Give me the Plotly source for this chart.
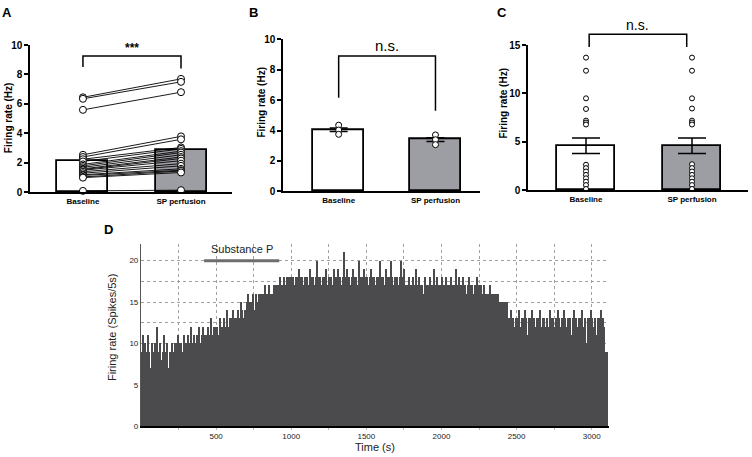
import plotly.graph_objects as go

W, H = 752, 457

groups = ["Baseline", "SP perfusion"]

# panel A: paired cells, baseline -> SP perfusion
a_baseline = [6.45, 6.35, 5.6, 2.55, 2.4, 2.25, 2.1, 1.9, 1.8, 1.7,
              1.6, 1.55, 1.5, 1.4, 1.3, 1.2, 1.15, 1.05, 1.0, 0.1]
a_sp = [7.7, 7.5, 6.8, 3.8, 3.6, 3.05, 2.95, 2.8, 2.7, 2.55,
        2.4, 2.3, 2.15, 1.95, 1.8, 1.6, 1.5, 1.45, 1.35, 0.15]
a_means = [2.15, 2.9]
a_bracket_top = 9.25
a_bracket_ends = [8.5, 8.4]
a_label = "***"

# panel B
b_baseline = [4.35, 4.03, 3.75]
b_sp = [3.71, 3.39, 3.07]
b_means = [4.05, 3.4]
b_sem = [0.12, 0.13]
b_bracket_top = 8.9
b_bracket_ends = [6.15, 5.3]
b_label = "n.s."

# panel C
c_baseline = [13.7, 12.35, 9.5, 8.4, 7.2, 7.0, 6.8, 2.65, 2.3, 1.95, 1.6, 1.25, 0.9, 0.55, 0.15]
c_sp = [13.7, 12.35, 9.5, 8.45, 7.2, 7.0, 6.8, 2.7, 2.3, 1.95, 1.6, 1.25, 0.9, 0.55, 0.15]
c_means = [4.6, 4.6]
c_sem = [0.8, 0.8]
c_bracket_top = 16.1
c_bracket_ends = [14.8, 14.8]
c_bracket_x = [0.03, 0.95]
c_label = "n.s."

# panel D: firing rate histogram (spikes/5s), one value per 10 s from t = 0
bin_width = 10
rate_d = [
    9, 11, 10, 9, 11, 9, 7, 10, 9, 10,
    12, 9, 10, 8, 9, 11, 9, 10, 7, 9,
    10, 9, 10, 10, 11, 10, 10, 9, 11, 10,
    10, 11, 10, 12, 10, 11, 10, 11, 12, 10,
    11, 12, 11, 11, 12, 11, 13, 11, 12, 12,
    12, 11, 13, 12, 12, 13, 12, 14, 12, 13,
    13, 14, 13, 13, 14, 13, 15, 14, 13, 14,
    15, 16, 15, 15, 16, 14, 16, 15, 16, 16,
    16, 16, 17, 16, 16, 17, 16, 16, 17, 17,
    17, 17, 18, 17, 17, 18, 17, 18, 18, 18,
    18, 18, 17, 18, 18, 19, 18, 18, 17, 18,
    18, 17, 19, 18, 18, 17, 18, 20, 18, 18,
    17, 18, 18, 19, 17, 18, 18, 17, 19, 18,
    18, 19, 18, 17, 18, 21, 18, 19, 18, 17,
    18, 19, 18, 18, 17, 20, 18, 18, 19, 18,
    18, 17, 18, 19, 18, 18, 17, 18, 18, 20,
    18, 18, 17, 19, 18, 18, 20, 18, 17, 18,
    18, 17, 18, 20, 18, 19, 17, 17, 18, 17,
    17, 18, 17, 19, 17, 18, 17, 17, 16, 18,
    17, 17, 18, 17, 17, 19, 17, 18, 17, 17,
    18, 17, 17, 18, 17, 17, 18, 17, 17, 19,
    17, 18, 17, 17, 18, 17, 16, 17, 18, 17,
    17, 16, 17, 18, 17, 17, 17, 16, 17, 16,
    16, 16, 17, 16, 16, 16, 16, 16, 15, 15,
    15, 15, 15, 15, 13, 13, 14, 13, 12, 13,
    13, 14, 12, 13, 13, 14, 13, 11, 13, 13,
    14, 13, 12, 13, 13, 14, 12, 13, 13, 12,
    13, 12, 14, 13, 13, 12, 13, 14, 13, 12,
    13, 14, 13, 12, 13, 13, 11, 13, 14, 13,
    12, 13, 13, 14, 12, 13, 10, 13, 13, 14,
    13, 12, 13, 11, 13, 13, 14, 13, 12, 9,
    9,
]
sp_window = [420, 920]
sp_level = 20
d_xticks = [250, 500, 750, 1000, 1250, 1500, 1750, 2000, 2250, 2500, 2750, 3000]
d_yticks = [0, 2.5, 5, 7.5, 10, 12.5, 15, 17.5, 20]


def xdom(left, right):
    return [left / W, right / W]


def ydom(top, bottom):
    return [1 - bottom / H, 1 - top / H]


def to_paper(v, rng, dom):
    return dom[0] + (v - rng[0]) / (rng[1] - rng[0]) * (dom[1] - dom[0])


FONT = "Liberation Sans, Arial, sans-serif"
NARROW = "Liberation Sans Narrow, Arial Narrow, Liberation Sans, sans-serif"
GREY_BAR = "#9d9da4"

panels = {
    "A": dict(xd=xdom(30, 232), yd=ydom(41, 192), xr=[-0.54, 1.52], yr=[0, 10], dtick=2),
    "B": dict(xd=xdom(283, 480), yd=ydom(35, 191), xr=[-0.575, 1.46], yr=[0, 10], dtick=2),
    "C": dict(xd=xdom(528, 748), yd=ydom(41, 190), xr=[-0.547, 1.528], yr=[0, 15], dtick=5),
}

fig = go.Figure()

# ---- panel A
fig.add_trace(go.Bar(
    x=[0, 1], y=a_means, width=0.52, xaxis="x", yaxis="y",
    marker=dict(color=["white", GREY_BAR], line=dict(color="black", width=1.8)),
))
lx, ly = [], []
for b, s in zip(a_baseline, a_sp):
    lx += [0, 1, None]
    ly += [b, s, None]
fig.add_trace(go.Scatter(
    x=lx, y=ly, mode="lines+markers", xaxis="x", yaxis="y", cliponaxis=False,
    line=dict(color="black", width=0.9),
    marker=dict(size=7, color="white", line=dict(color="black", width=1)),
))

# ---- panel B
fig.add_trace(go.Bar(
    x=[0, 1], y=b_means, width=0.52, xaxis="x2", yaxis="y2",
    marker=dict(color=["white", GREY_BAR], line=dict(color="black", width=1.8)),
    error_y=dict(type="data", array=b_sem, color="black", thickness=1.5, width=9),
))
fig.add_trace(go.Scatter(
    x=[0] * len(b_baseline) + [1] * len(b_sp), y=b_baseline + b_sp,
    mode="markers", xaxis="x2", yaxis="y2",
    marker=dict(size=6, color="white", line=dict(color="black", width=1)),
))

# ---- panel C
fig.add_trace(go.Bar(
    x=[0, 1], y=c_means, width=0.54, xaxis="x3", yaxis="y3",
    marker=dict(color=["white", GREY_BAR], line=dict(color="black", width=1.8)),
    error_y=dict(type="data", array=c_sem, color="black", thickness=1.5, width=14),
))
fig.add_trace(go.Scatter(
    x=[0] * len(c_baseline) + [1] * len(c_sp), y=c_baseline + c_sp,
    mode="markers", xaxis="x3", yaxis="y3", cliponaxis=False,
    marker=dict(size=5, color="white", line=dict(color="black", width=1)),
))

# ---- panel D
t_centers = [bin_width / 2 + bin_width * i for i in range(len(rate_d))]
fig.add_trace(go.Bar(
    x=t_centers, y=rate_d, width=bin_width, xaxis="x4", yaxis="y4",
    marker=dict(color="#4b4b4d", line=dict(width=0)),
))

layout_axes = {}
for i, key in enumerate(["A", "B", "C"]):
    p = panels[key]
    sx = "" if i == 0 else str(i + 1)
    layout_axes["xaxis" + sx] = dict(
        domain=p["xd"], range=p["xr"], anchor="y" + sx,
        tickvals=[0, 1], ticktext=groups, ticks="",
        showline=True, linecolor="black", linewidth=1.5,
        showgrid=False, zeroline=False,
        tickfont=dict(family=FONT, size=8, color="black", weight="bold"),
    )
    layout_axes["yaxis" + sx] = dict(
        domain=p["yd"], range=p["yr"], anchor="x" + sx, dtick=p["dtick"],
        ticks="outside", ticklen=4, tickwidth=1.5, tickcolor="black",
        showline=True, linecolor="black", linewidth=1.5,
        showgrid=False, zeroline=False,
        tickfont=dict(family=FONT, size=10, color="black", weight="bold"),
    )

d_xd = xdom(141, 609)
d_yd = ydom(245, 431.5)
layout_axes["xaxis4"] = dict(
    domain=d_xd, range=[0, 3115], anchor="y4",
    tickvals=d_xticks, ticktext=[str(v) if v % 500 == 0 else "" for v in d_xticks],
    ticks="outside", ticklen=2, tickcolor="#bbbbbb",
    showline=True, linecolor="black", linewidth=1.5,
    showgrid=True, gridcolor="#a0a0a0", griddash="dot", gridwidth=1,
    zeroline=False, tickfont=dict(family=FONT, size=8, color="#222222"),
    title=dict(text="Time (s)", font=dict(family=FONT, size=11, color="#222222"), standoff=2),
)
layout_axes["yaxis4"] = dict(
    domain=d_yd, range=[0, 22], anchor="x4",
    tickvals=d_yticks, ticktext=[str(int(v)) if v % 5 == 0 else "" for v in d_yticks],
    ticks="", showline=True, linecolor="#555555", linewidth=1.2,
    showgrid=True, gridcolor="#a0a0a0", griddash="dot", gridwidth=1,
    zeroline=False, tickfont=dict(family=FONT, size=8, color="#222222"),
)

shapes = []
annotations = []

brackets = {
    "A": ([0, 1], a_bracket_top, a_bracket_ends, a_label, 9.8, dict(size=12, weight="bold")),
    "B": ([0, 1], b_bracket_top, b_bracket_ends, b_label, 9.6, dict(size=15, family=NARROW)),
    "C": (c_bracket_x, c_bracket_top, c_bracket_ends, c_label, 17.05, dict(size=14, family=NARROW)),
}
for key, (bx, top, ends, label, label_y, lf) in brackets.items():
    p = panels[key]
    x0 = to_paper(bx[0], p["xr"], p["xd"])
    x1 = to_paper(bx[1], p["xr"], p["xd"])
    yt = to_paper(top, p["yr"], p["yd"])
    y0 = to_paper(ends[0], p["yr"], p["yd"])
    y1 = to_paper(ends[1], p["yr"], p["yd"])
    shapes.append(dict(
        type="path", xref="paper", yref="paper",
        path=f"M {x0},{y0} L {x0},{yt} L {x1},{yt} L {x1},{y1}",
        line=dict(color="black", width=1.5),
    ))
    font = dict(family=FONT, color="black")
    font.update(lf)
    annotations.append(dict(
        x=(x0 + x1) / 2, y=to_paper(label_y, p["yr"], p["yd"]),
        xref="paper", yref="paper", text=label, showarrow=False,
        xanchor="center", yanchor="middle", font=font,
    ))

# y titles of the small panels
for key, xpos, ycen in [("A", 8, 116), ("B", 262, 100), ("C", 504, 101)]:
    annotations.append(dict(
        x=xpos / W, y=1 - ycen / H, xref="paper", yref="paper",
        text="Firing rate (Hz)", textangle=-90, showarrow=False,
        xanchor="center", yanchor="middle",
        font=dict(family=FONT, size=10, color="black", weight="bold"),
    ))

# panel letters
for letter, xpos, ypos in [("A", 7, 8), ("B", 253, 8), ("C", 502, 8), ("D", 108, 230)]:
    annotations.append(dict(
        x=xpos / W, y=1 - ypos / H, xref="paper", yref="paper",
        text=letter, showarrow=False, xanchor="center", yanchor="middle",
        font=dict(family=FONT, size=13, color="black", weight="bold"),
    ))

# panel D extras
annotations.append(dict(
    x=112 / W, y=1 - 330 / H, xref="paper", yref="paper",
    text="Firing rate (Spikes/5s)", textangle=-90, showarrow=False,
    xanchor="center", yanchor="middle",
    font=dict(family=FONT, size=11, color="#222222"),
))
shapes.append(dict(
    type="line", xref="x4", yref="y4",
    x0=sp_window[0], x1=sp_window[1], y0=sp_level, y1=sp_level,
    line=dict(color="#6e6e6e", width=3),
))
annotations.append(dict(
    x=sum(sp_window) / 2, y=sp_level + 0.45, xref="x4", yref="y4",
    text="Substance P", showarrow=False, xanchor="center", yanchor="bottom",
    font=dict(family=FONT, size=11, color="#222222"),
))

fig.update_layout(
    width=W, height=H, autosize=False,
    margin=dict(l=0, r=0, t=0, b=0),
    paper_bgcolor="white", plot_bgcolor="white",
    showlegend=False, bargap=0,
    shapes=shapes, annotations=annotations,
    **layout_axes,
)

# the page body keeps its default 8px margin otherwise
fig.write_html(
    "out.html",
    config={"displayModeBar": False},
    post_script="document.body.style.margin = '0';",
)
